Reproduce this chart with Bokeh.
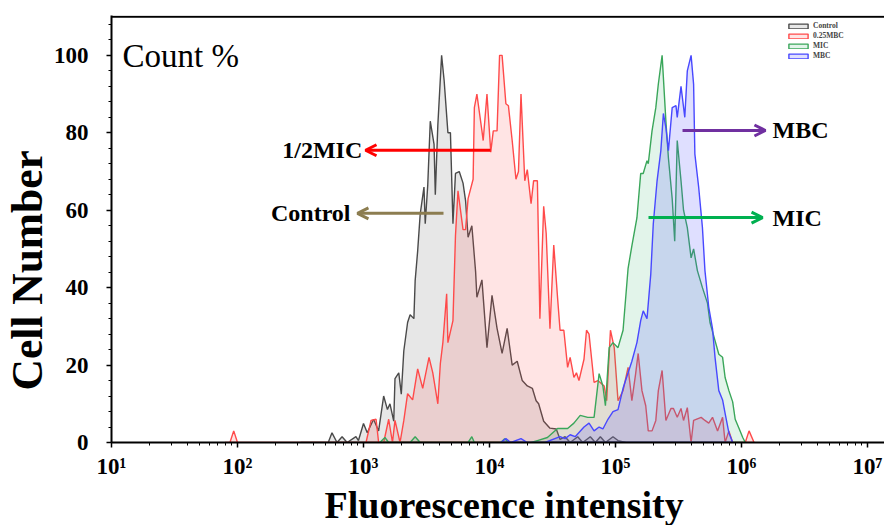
import numpy as np
from bokeh.plotting import figure
from bokeh.models import (Range1d, FixedTicker, CustomJSTickFormatter, Label, Arrow,
                          OpenHead, Span, Legend, LegendItem, Title)
from bokeh.embed import file_html
from bokeh.resources import INLINE

# ---------------- data (x as log10 of fluorescence intensity, y as count %) ----------------
ctrl_exp = [2.50, 2.72, 2.75, 2.79, 2.83, 2.87, 2.94, 2.96, 3.00, 3.03, 3.08, 3.12, 3.16, 3.19,
            3.21, 3.24, 3.25, 3.28, 3.30, 3.32, 3.35, 3.37, 3.40, 3.41, 3.43, 3.45, 3.48, 3.49,
            3.51, 3.53, 3.56, 3.57, 3.59, 3.62, 3.64, 3.67, 3.69, 3.71, 3.73, 3.76, 3.79, 3.81,
            3.83, 3.86, 3.89, 3.90, 3.94, 3.98, 4.02, 4.06, 4.10, 4.14, 4.18, 4.22, 4.26, 4.30,
            4.34, 4.37, 4.39, 4.43, 4.48, 4.53, 4.56, 4.60, 4.64, 4.70, 4.74, 4.80, 4.84, 4.88,
            4.92, 4.98, 5.02, 5.08]
ctrl_pct = [0, 0, 2.5, 0, 1.5, 0, 1.5, 0.5, 4.9, 2.5, 6, 3, 12, 8.5, 10, 5.5, 16.5, 18,
            12.5, 23.7, 31, 33, 32, 41.8, 49.5, 59, 66, 56.5, 66.5, 83, 77, 64, 82, 100, 93.5,
            80, 80, 56.5, 69.5, 70, 67, 62.5, 53, 56, 44, 37.5, 42, 24.5, 38, 29.5, 23, 29.5,
            20, 21, 16, 14.6, 14, 10.8, 10, 5.5, 3.7, 3.5, 0.8, 1.5, 0, 1.5, 0, 1.5, 0, 1.5,
            0, 1.5, 0.5, 0]

half_exp = [1.90, 1.94, 1.97, 2.00, 3.02, 3.06, 3.10, 3.12, 3.16, 3.20, 3.23, 3.25, 3.29, 3.32,
            3.35, 3.39, 3.43, 3.47, 3.52, 3.55, 3.59, 3.61, 3.63, 3.66, 3.67, 3.71, 3.73, 3.75,
            3.79, 3.81, 3.83, 3.87, 3.88, 3.90, 3.94, 3.95, 3.98, 4.01, 4.03, 4.06, 4.08, 4.10,
            4.13, 4.15, 4.18, 4.21, 4.23, 4.25, 4.28, 4.30, 4.33, 4.35, 4.38, 4.40, 4.43, 4.45,
            4.48, 4.51, 4.54, 4.56, 4.59, 4.62, 4.64, 4.67, 4.69, 4.71, 4.75, 4.77, 4.79, 4.83,
            4.86, 4.91, 4.93, 4.96, 4.99, 5.02, 5.06, 5.10, 5.13, 5.16, 5.18, 5.21, 5.24, 5.26,
            5.29, 5.32, 5.34, 5.37, 5.40, 5.44, 5.46, 5.49, 5.52, 5.54, 5.57, 5.60, 5.62, 5.68,
            5.71, 5.74, 5.77, 5.81, 5.85, 5.87, 5.90, 5.93, 6.03, 6.06, 6.10]
half_pct = [0, 0, 3, 0, 0, 5.7, 6, 0, 0, 6, 0, 5.7, 0, 5.7,
            12.6, 11, 19, 14, 22, 18, 10, 20.4, 25.8, 38.4, 25.8, 31.5, 53.4, 65,
            55, 55, 63, 68, 86.5, 90, 80.5, 78, 90, 75, 80.5, 80.5, 100, 100,
            87.5, 87, 78, 68, 70, 90, 67.6, 70.5, 61.7, 67.6, 67.6, 32, 61, 54,
            29.4, 51, 37.5, 29, 29, 19.4, 22, 16.8, 18, 16, 21.5, 29, 28, 15.5,
            16, 14.6, 10.8, 29, 24.5, 10.8, 13.4, 19.4, 10.8, 17.8, 23, 13.4, 9.5, 3,
            3, 5.7, 13.4, 18.6, 5.7, 8.8, 8.8, 6.5, 8.8, 5.7, 9, 0, 5.7, 6.5,
            5.7, 5, 6.5, 3, 6.5, 0, 3, 0, 0, 3, 0]

mic_exp = [3.13, 3.17, 3.20, 3.37, 3.41, 3.45, 3.83, 3.86, 3.88, 4.09, 4.12, 4.15, 4.33, 4.38,
           4.46, 4.54, 4.62, 4.67, 4.72, 4.78, 4.83, 4.87, 4.90, 4.92, 4.95, 4.98, 5.02, 5.06,
           5.10, 5.13, 5.17, 5.20, 5.22, 5.25, 5.26, 5.29, 5.32, 5.34, 5.37, 5.40, 5.42, 5.45,
           5.47, 5.49, 5.52, 5.54, 5.57, 5.60, 5.62, 5.65, 5.69, 5.73, 5.75, 5.79, 5.82, 5.85,
           5.87, 5.90, 5.93, 5.95, 5.98, 6.01, 6.03]
mic_pct = [0, 1.3, 0, 0, 1.5, 0, 0, 1.5, 0, 0, 1, 0, 0, 0.5,
           1.3, 3.6, 3.6, 5, 7, 6.5, 6.5, 17.8, 14.6, 9.5, 24.5, 25.8, 24.5, 29,
           45, 50.8, 58, 69.5, 69.5, 72.8, 72, 80.5, 86.5, 92.6, 100, 83, 73.5, 63,
           52, 78, 67.6, 60, 55.5, 47.7, 50, 44.4, 40, 36, 31, 26.3, 22.8, 22,
           16.8, 13.4, 10.5, 6, 3.7, 1.3, 0]

mbc_exp = [4.09, 4.13, 4.17, 4.25, 4.30, 4.44, 4.56, 4.60, 4.64, 4.68, 4.75, 4.79, 4.83, 4.87,
           4.90, 4.94, 4.98, 5.02, 5.06, 5.10, 5.13, 5.17, 5.20, 5.22, 5.25, 5.28, 5.30, 5.33,
           5.36, 5.38, 5.40, 5.42, 5.45, 5.48, 5.49, 5.52, 5.55, 5.57, 5.60, 5.62, 5.63, 5.66,
           5.69, 5.71, 5.74, 5.77, 5.79, 5.82, 5.85, 5.87, 5.90, 5.93]
mbc_pct = [0, 1, 0, 1, 0, 0, 1.5, 1, 2, 1.5, 4, 5, 3, 4,
           3.5, 6, 8, 8.5, 14, 18, 21, 25.8, 31.5, 34, 32, 43.5, 56.5, 67.6,
           75.4, 85, 81.3, 75.4, 86.5, 87, 84, 92, 84, 96, 100, 92.5, 74.5, 66,
           55.5, 44.4, 35, 29.4, 22, 13.4, 11, 7.5, 2.5, 0]

series_names = ["Control", "0.25MBC", "MIC", "MBC"]
x_tick_exps = [1, 2, 3, 4, 5, 6, 7]
y_ticks = [0, 20, 40, 60, 80, 100]

# annotation arrows
arrow_labels = ["1/2MIC", "Control", "MBC", "MIC"]
arrow_start_exp = [4.008, 3.635, 5.532, 5.262]
arrow_end_exp = [3.016, 2.952, 6.19, 6.167]
arrow_y = [75.5, 59.2, 80.6, 58.1]
label_exp = [2.99, 2.897, 6.246, 6.246]

# ---------------- figure ----------------
SERIF = "Liberation Serif"
Y_TOP = 110.3
p = figure(width=884, height=525, x_axis_type="log",
           x_range=Range1d(10 ** 1, 10 ** 7.135), y_range=Range1d(0, Y_TOP),
           output_backend="svg", toolbar_location=None,
           min_border_left=111, min_border_right=0, min_border_top=15, min_border_bottom=83)
p.outline_line_color = None
p.xgrid.visible = False
p.ygrid.visible = False

styles = [
    dict(fill_color="#a0a0a0", fill_alpha=0.25, line_color="#4a4a4a"),
    dict(fill_color="#ff4d4d", fill_alpha=0.15, line_color="#ff4a4a"),
    dict(fill_color="#3cb371", fill_alpha=0.15, line_color="#3aa65a"),
    dict(fill_color="#5050ff", fill_alpha=0.18, line_color="#4848ff"),
]
data = [(ctrl_exp, ctrl_pct), (half_exp, half_pct), (mic_exp, mic_pct), (mbc_exp, mbc_pct)]
renderers = []
for (ex, pc), st in zip(data, styles):
    xs = (10 ** np.array(ex)).tolist()
    r = p.patch(xs, pc, line_width=1.4, **st)
    renderers.append(r)

# axes
xa = p.xaxis[0]
ya = p.yaxis[0]
xa.ticker = FixedTicker(ticks=[10 ** e for e in x_tick_exps],
                        minor_ticks=[k * 10 ** n for n in range(1, 7) for k in range(2, 10)])
xa.formatter = CustomJSTickFormatter(code="""
const sup = {1:'\u00b9', 2:'\u00b2', 3:'\u00b3', 4:'\u2074', 5:'\u2075', 6:'\u2076', 7:'\u2077'};
const e = Math.round(Math.log10(tick));
return '10' + sup[e];
""")
ya.ticker = FixedTicker(ticks=y_ticks, minor_ticks=list(range(0, 111, 4)))
for ax in (xa, ya):
    ax.axis_line_color = "black"
    ax.axis_line_width = 2
    ax.major_tick_line_color = "black"
    ax.major_tick_line_width = 1.5
    ax.minor_tick_line_color = "black"
    ax.major_tick_in = 0
    ax.major_tick_out = 5
    ax.minor_tick_in = 0
    ax.minor_tick_out = 3
    ax.major_label_text_font = SERIF
    ax.major_label_text_font_style = "bold"
    ax.major_label_text_font_size = "23px"
    ax.major_label_text_color = "black"
ya.major_label_standoff = 18
xa.major_label_standoff = 6

p.add_layout(Span(location=Y_TOP - 0.3, dimension="width", line_color="black", line_width=2))

# axis titles as side titles
p.add_layout(Title(text="Cell Number", align="left", offset=52, standoff=0,
                   text_font=SERIF, text_font_style="bold", text_font_size="43.5px",
                   text_color="black"), "left")
p.add_layout(Title(text="Fluorescence intensity", align="left", offset=213, standoff=0,
                   text_font=SERIF, text_font_style="bold", text_font_size="38px",
                   text_color="black"), "below")

p.add_layout(Label(x=11, y=387, x_units="screen", y_units="screen", text="Count %",
                   text_align="left", text_baseline="alphabetic", text_font=SERIF,
                   text_font_size="33px", text_color="black"))

# arrows with labels
arrow_colors = ["#ff0000", "#8c7d50", "#7030a0", "#00b050"]
for lab, xs, xe, yy, lx, col in zip(arrow_labels, arrow_start_exp, arrow_end_exp,
                                     arrow_y, label_exp, arrow_colors):
    p.add_layout(Arrow(end=OpenHead(size=11, line_color=col, line_width=3),
                       x_start=10 ** xs, y_start=yy, x_end=10 ** xe, y_end=yy,
                       line_color=col, line_width=3))
    align = "right" if xe < xs else "left"
    p.add_layout(Label(x=10 ** lx, y=yy, text=lab, text_align=align, text_baseline="middle",
                       text_font=SERIF, text_font_style="bold", text_font_size="24px",
                       text_color="black"))

# tiny legend
legend = Legend(items=[LegendItem(label=n, renderers=[r]) for n, r in zip(series_names, renderers)],
                location=(675, 382), orientation="vertical",
                label_text_font=SERIF, label_text_font_style="bold", label_text_font_size="7.5px",
                glyph_width=24, glyph_height=6, label_height=6, label_standoff=3,
                spacing=1, padding=1, margin=0, border_line_color=None,
                background_fill_alpha=0)
p.add_layout(legend)

open("out.html", "w").write(file_html(p, INLINE))
